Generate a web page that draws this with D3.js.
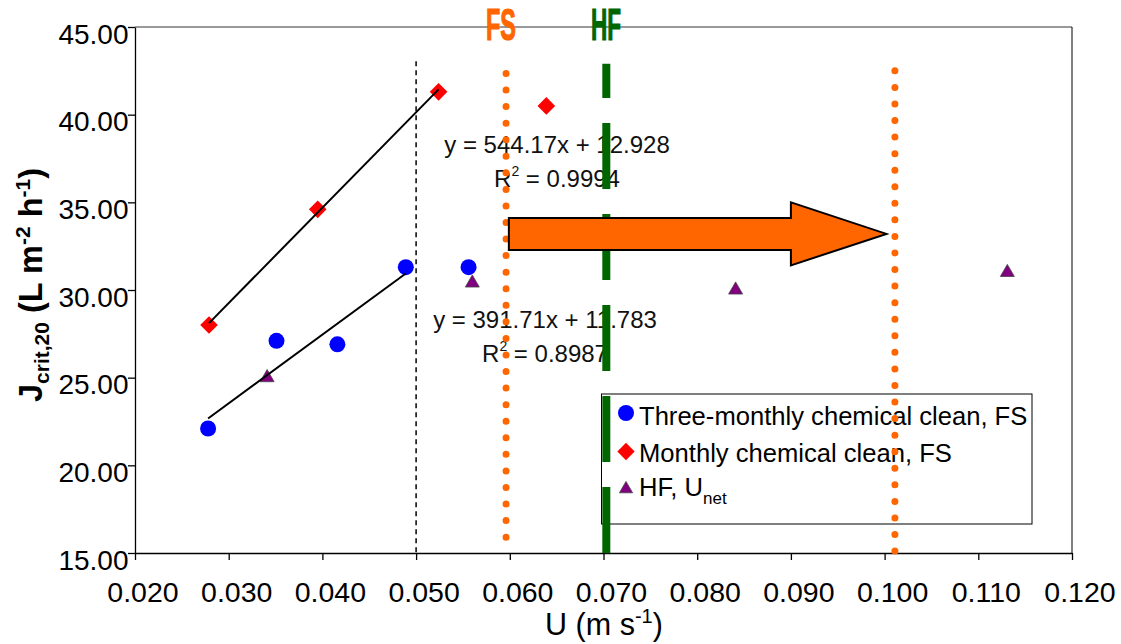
<!DOCTYPE html>
<html>
<head>
<meta charset="utf-8">
<script src="https://cdn.jsdelivr.net/npm/d3@7"></script>
<style>
  body { margin: 0; background: #fff; }
  svg { display: block; font-family: Arial, "Liberation Sans", sans-serif; }
</style>
</head>
<body>
<script>
// Three-monthly chemical clean, FS
var threeMonthlyU = [0.0278, 0.0351, 0.0416, 0.0489, 0.0556]
var threeMonthlyJ = [22.1, 27.1, 26.9, 31.3, 31.3]
// Monthly chemical clean, FS
var monthlyU = [0.0279, 0.0395, 0.0524, 0.0639]
var monthlyJ = [28.0, 34.6, 41.3, 40.5]
// HF, U net
var hfU = [0.0341, 0.0560, 0.0841, 0.1131]
var hfJ = [25.0, 30.4, 30.0, 31.0]

var xTicks = [0.02, 0.03, 0.04, 0.05, 0.06, 0.07, 0.08, 0.09, 0.10, 0.11, 0.12]
var yTicks = [15, 20, 25, 30, 35, 40, 45]

// linear fits: [slope, intercept, x from, x to]
var fitMonthly = [544.17, 12.928, 0.0279, 0.0524]
var fitLower = [391.71, 11.783, 0.0278, 0.0489]
var eqMonthly = ['y = 544.17x + 12.928', '0.9994']
var eqLower = ['y = 391.71x + 11.783', '0.8987']

// vertical reference lines (U) and top of each line (J)
var limitU = 0.05, limitTop = 43.05
var fsU = 0.0596, fsTop = 42.35
var hfLineU = 0.0703, hfTop = 42.9
var fsTargetU = 0.1011, fsTargetTop = 42.5

// block arrow: x start, head base, tip; y centre
var arrowU = [0.0599, 0.0900, 0.1002]
var arrowJ = 33.2

var svg = d3.select('body').append('svg').attr('width', 1121).attr('height', 644)

var x = d3.scaleLinear().domain([0.02, 0.12]).range([135, 1072])
var y = d3.scaleLinear().domain([15, 45]).range([553, 27])

// frame: top grey, right black
svg.append('line').attr('x1', 135).attr('x2', 1072).attr('y1', 27).attr('y2', 27)
    .attr('stroke', '#777').attr('stroke-width', 1.5)
svg.append('line').attr('x1', 1072).attr('x2', 1072).attr('y1', 27).attr('y2', 553)
    .attr('stroke', '#000').attr('stroke-width', 1)

// axes
var xAxis = svg.append('g').attr('transform', 'translate(0,553)')
    .call(d3.axisBottom(x).tickValues(xTicks).tickFormat(d3.format('.3f')).tickSize(7).tickSizeOuter(0))
xAxis.selectAll('text').attr('font-size', 28.5).attr('font-family', 'Arial, "Liberation Sans", sans-serif')
    .attr('fill', '#000').attr('dy', 0).attr('y', 48.7).attr('dx', 7.5)

var yAxis = svg.append('g').attr('transform', 'translate(135,0)')
    .call(d3.axisLeft(y).tickValues(yTicks).tickFormat(d3.format('.2f')).tickSize(7).tickSizeOuter(0))
yAxis.selectAll('text').attr('font-size', 28).attr('font-family', 'Arial, "Liberation Sans", sans-serif')
    .attr('fill', '#000').attr('dy', 0).attr('y', 16).attr('x', -6.5)
svg.selectAll('.domain, .tick line').attr('stroke', '#000').attr('stroke-width', 1.3)

// axis titles
var xt = svg.append('text').attr('x', 604).attr('y', 635).attr('text-anchor', 'middle').attr('font-size', 30.5)
xt.append('tspan').text('U (m s')
xt.append('tspan').attr('dy', -12).attr('font-size', 20).text('-1')
xt.append('tspan').attr('dy', 12).text(')')

var yt = svg.append('text').attr('transform', 'translate(42,285) rotate(-90)')
    .attr('text-anchor', 'middle').attr('font-size', 32.5).attr('font-weight', 'bold')
yt.append('tspan').text('J')
yt.append('tspan').attr('dy', 7).attr('font-size', 21).text('crit,20')
yt.append('tspan').attr('dy', -7).text(' (L m')
yt.append('tspan').attr('dy', -12).attr('font-size', 21).text('-2')
yt.append('tspan').attr('dy', 12).text(' h')
yt.append('tspan').attr('dy', -12).attr('font-size', 21).text('-1')
yt.append('tspan').attr('dy', 12).text(')')

// trendline equations
function equation(eq, cx, base) {
    svg.append('text').attr('x', cx).attr('y', base).attr('text-anchor', 'middle')
        .attr('font-size', 24).attr('fill', '#111').text(eq[0])
    var r = svg.append('text').attr('x', cx).attr('y', base + 34).attr('text-anchor', 'middle')
        .attr('font-size', 24).attr('fill', '#111')
    r.append('tspan').text('R')
    r.append('tspan').attr('dy', -11).attr('font-size', 14).text('2')
    r.append('tspan').attr('dy', 11).text(' = ' + eq[1])
}
equation(eqMonthly, 557, 153)
equation(eqLower, 545, 328)

// legend
var lg = svg.append('g')
lg.append('rect').attr('x', 601.5).attr('y', 394).attr('width', 430.5).attr('height', 130)
    .attr('fill', '#fff').attr('stroke', '#000').attr('stroke-width', 1)
lg.append('circle').attr('cx', 626).attr('cy', 413).attr('r', 8).attr('fill', '#0000ff')
lg.append('path').attr('d', d3.symbol(d3.symbolSquare, 150)).attr('fill', '#ff0000')
    .attr('transform', 'translate(626,451.5) rotate(45)')
lg.append('path').attr('d', d3.symbol(d3.symbolTriangle, 75)).attr('fill', '#800080')
    .attr('stroke', '#444').attr('stroke-width', 0.8).attr('transform', 'translate(626,489)')
lg.append('text').attr('x', 639).attr('y', 425).attr('font-size', 25.6).text('Three-monthly chemical clean, FS')
lg.append('text').attr('x', 639).attr('y', 461.5).attr('font-size', 25.6).text('Monthly chemical clean, FS')
var l3 = lg.append('text').attr('x', 639).attr('y', 495.5).attr('font-size', 25.6)
l3.append('tspan').text('HF, U')
l3.append('tspan').attr('dy', 8).attr('font-size', 17).text('net')

// markers
svg.append('g').selectAll('circle').data(threeMonthlyU).enter().append('circle')
    .attr('cx', function(d) { return x(d) })
    .attr('cy', function(d, i) { return y(threeMonthlyJ[i]) })
    .attr('r', 8).attr('fill', '#0000ff')

svg.append('g').selectAll('path').data(monthlyU).enter().append('path')
    .attr('d', d3.symbol(d3.symbolSquare, 155))
    .attr('transform', function(d, i) { return 'translate(' + x(d) + ',' + y(monthlyJ[i]) + ') rotate(45)' })
    .attr('fill', '#ff0000')

svg.append('g').selectAll('path').data(hfU).enter().append('path')
    .attr('d', d3.symbol(d3.symbolTriangle, 85))
    .attr('transform', function(d, i) { return 'translate(' + x(d) + ',' + y(hfJ[i]) + ')' })
    .attr('fill', '#800080').attr('stroke', '#444').attr('stroke-width', 0.8)

// trendlines (drawn over the markers)
;[fitMonthly, fitLower].forEach(function(f) {
    svg.append('line')
        .attr('x1', x(f[2])).attr('y1', y(f[0] * f[2] + f[1]))
        .attr('x2', x(f[3])).attr('y2', y(f[0] * f[3] + f[1]))
        .attr('stroke', '#000').attr('stroke-width', 2)
})

// vertical reference lines
svg.append('line').attr('x1', x(limitU)).attr('x2', x(limitU)).attr('y1', y(limitTop)).attr('y2', y(15))
    .attr('stroke', '#000').attr('stroke-width', 1.5).attr('stroke-dasharray', '5,4')

;[[fsU, fsTop], [fsTargetU, fsTargetTop]].forEach(function(l) {
    svg.append('line').attr('x1', x(l[0])).attr('x2', x(l[0])).attr('y1', y(l[1])).attr('y2', y(15))
        .attr('stroke', '#ff6600').attr('stroke-width', 7).attr('stroke-linecap', 'round')
        .attr('stroke-dasharray', '0,16.56')
})

svg.append('line').attr('x1', x(hfLineU)).attr('x2', x(hfLineU)).attr('y1', y(15)).attr('y2', y(hfTop))
    .attr('stroke', '#006600').attr('stroke-width', 8).attr('stroke-dasharray', '66,25')

// block arrow
var bodyH = 16, headH = 31.5, ay = y(arrowJ)
var arrowPts = [
    [x(arrowU[0]), ay - bodyH], [x(arrowU[1]), ay - bodyH], [x(arrowU[1]), ay - headH],
    [x(arrowU[2]), ay], [x(arrowU[1]), ay + headH], [x(arrowU[1]), ay + bodyH], [x(arrowU[0]), ay + bodyH]
]
svg.append('path').attr('d', d3.line()(arrowPts) + 'Z')
    .attr('fill', '#ff6600').attr('stroke', '#000').attr('stroke-width', 2)

// line labels at the top
svg.append('text').attr('x', 486).attr('y', 40).attr('font-size', 44).attr('font-weight', 'bold')
    .attr('textLength', 30).attr('lengthAdjust', 'spacingAndGlyphs').attr('fill', '#ff6600')
    .attr('stroke', '#ff6600').attr('stroke-width', 1.2).text('FS')
svg.append('text').attr('x', 591).attr('y', 40).attr('font-size', 44).attr('font-weight', 'bold')
    .attr('textLength', 30).attr('lengthAdjust', 'spacingAndGlyphs').attr('fill', '#006600')
    .attr('stroke', '#006600').attr('stroke-width', 1.2).text('HF')
</script>
</body>
</html>
